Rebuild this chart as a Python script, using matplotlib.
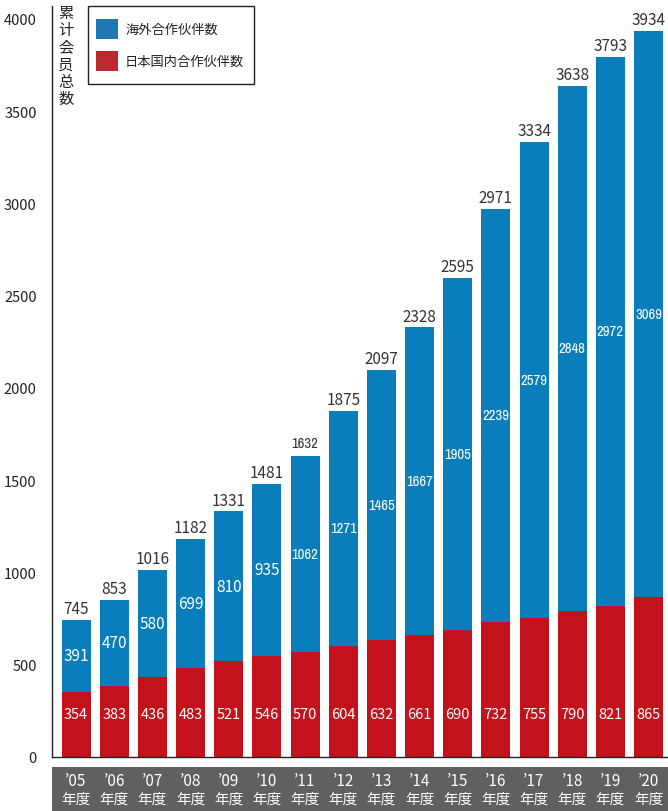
import matplotlib
matplotlib.use("Agg")
import matplotlib.pyplot as plt
from matplotlib.patches import Rectangle
from matplotlib import font_manager as fm

plt.rcParams['font.family'] = ['Noto Sans CJK JP', 'DejaVu Sans']

years = ["’05", "’06", "’07", "’08", "’09", "’10", "’11", "’12",
         "’13", "’14", "’15", "’16", "’17", "’18", "’19", "’20"]
domestic = [354, 383, 436, 483, 521, 546, 570, 604, 632, 661, 690, 732, 755, 790, 821, 865]
overseas = [391, 470, 580, 699, 810, 935, 1062, 1271, 1465, 1667, 1905, 2239, 2579, 2848, 2972, 3069]
totals = [745, 853, 1016, 1182, 1331, 1481, 1632, 1875, 2097, 2328, 2595, 2971, 3334, 3638, 3793, 3934]
yticks = [0, 500, 1000, 1500, 2000, 2500, 3000, 3500, 4000]
legend_labels = ["海外合作伙伴数", "日本国内合作伙伴数"]
ylabel_text = "累计会员总数"
year_suffix = "年度"

BLUE = '#0A7EBB'
RED = '#C4121D'
LEG_BLUE = '#1F78B1'
LEG_RED = '#BE2830'
W, H = 668, 812


def is_regular(f):
    w = f.weight
    return (w in (400, 'normal', 'regular', 'book')) and f.style == 'normal'


cond_family = None
for f in fm.fontManager.ttflist:
    if 'Narrow' in f.name and is_regular(f):
        cond_family = f.name
        break
if cond_family is None:
    for f in fm.fontManager.ttflist:
        if ('Condensed' in f.name or f.stretch in ('condensed', 'semi-condensed')) and is_regular(f):
            cond_family = f.name
            break
narrow_kw = dict(family=[cond_family, 'DejaVu Sans'] if cond_family else ['DejaVu Sans'],
                 fontstretch='condensed', fontweight='normal')

fig = plt.figure(figsize=(W / 100, H / 100), dpi=100)
ax = fig.add_axes([52 / W, (H - 758) / H, (668 - 52) / W, (758 - 7) / H])

x = list(range(len(years)))
ax.bar(x, domestic, width=0.76, color=RED, zorder=2)
ax.bar(x, overseas, width=0.76, bottom=domestic, color=BLUE, zorder=2)

ax.set_xlim(-0.63, 15.51)
ax.set_ylim(0, 4070)
ax.set_yticks(yticks)
ax.tick_params(axis='y', length=0, pad=11, labelsize=10.5, labelcolor='#222222')
ax.set_xticks([])
for s in ['top', 'right']:
    ax.spines[s].set_visible(False)
ax.spines['left'].set_color('#222222')
ax.spines['bottom'].set_color('#222222')
ax.spines['left'].set_linewidth(1.0)
ax.spines['bottom'].set_linewidth(1.0)

for i in x:
    d, o, t = domestic[i], overseas[i], totals[i]
    ax.text(i, 235, str(d), ha='center', va='center', color='white', fontsize=10.5, zorder=3)
    if o >= 1000:
        ax.text(i, d + o / 2, str(o), ha='center', va='center', color='white',
                fontsize=10.5, zorder=3, **narrow_kw)
    else:
        ax.text(i, d + o / 2, str(o), ha='center', va='center', color='white',
                fontsize=11, zorder=3)
    if t == 1632:
        ax.annotate(str(t), (i, t), xytext=(0, 4), textcoords='offset points',
                    ha='center', va='bottom', color='#333333', fontsize=10.5, **narrow_kw)
    else:
        ax.annotate(str(t), (i, t), xytext=(0, 2), textcoords='offset points',
                    ha='center', va='bottom', color='#333333', fontsize=11)

fig.text(66 / W, 1 - 5 / H, "\n".join(ylabel_text), ha='center', va='top',
         fontsize=11, color='#222222', linespacing=1.02)

fig.patches.append(Rectangle((88 / W, 1 - 85 / H), (254 - 88) / W, (85 - 7) / H,
                             transform=fig.transFigure, facecolor='white',
                             edgecolor='#222222', linewidth=1.0, zorder=5))
for k, (lab, col, yc) in enumerate(zip(legend_labels, [LEG_BLUE, LEG_RED], [30, 62])):
    fig.patches.append(Rectangle((96 / W, 1 - (yc + 10) / H), 22 / W, 20 / H,
                                 transform=fig.transFigure, facecolor=col,
                                 edgecolor='none', zorder=6))
    fig.text(125 / W, 1 - yc / H, lab, ha='left', va='center', fontsize=9.5,
             color='#222222', zorder=7)

fig.patches.append(Rectangle((52 / W, 0), (668 - 52) / W, (812 - 768) / H,
                             transform=fig.transFigure, facecolor='#606060',
                             edgecolor='none', zorder=1))
trans = matplotlib.transforms.blended_transform_factory(ax.transData, fig.transFigure)
for i, yl in enumerate(years):
    fig.text(i, 1 - 782 / H, yl, transform=trans, ha='center', va='center',
             color='white', fontsize=11)
    fig.text(i, 1 - 800 / H, year_suffix, transform=trans, ha='center', va='center',
             color='white', fontsize=10.5)

fig.savefig('out.png', dpi=100)
